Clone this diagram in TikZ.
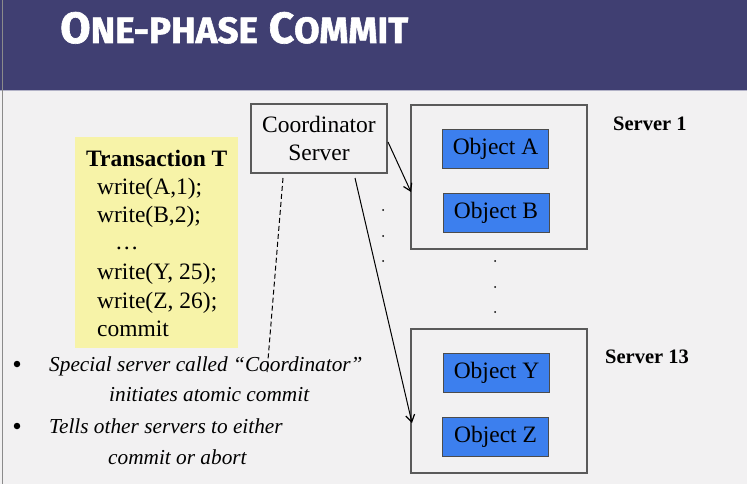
\documentclass[tikz,border=0pt]{standalone}
\usepackage{fontspec}
\setmainfont{Liberation Serif}
\newfontfamily\titlefont{Fira Sans}[BoldFeatures={FakeBold=1.5}]
\usetikzlibrary{arrows.meta}
\definecolor{banner}{HTML}{403F72}
\definecolor{paper}{HTML}{F2F1F2}
\definecolor{note}{HTML}{F7F3A8}
\definecolor{objblue}{HTML}{3C7FEE}
\definecolor{frame}{HTML}{5A5A5A}
\tikzset{
  server/.style={draw=frame, line width=1.2pt, fill=paper},
  objbox/.style={draw=black!70, line width=0.9pt, fill=objblue, minimum width=106pt, minimum height=39pt, inner sep=0pt, font=\fontsize{23.5}{26}\selectfont},
  coord/.style={draw=frame, line width=1.2pt, fill=paper, minimum width=136pt, minimum height=69pt, inner sep=0pt, align=center, font=\fontsize{23.5}{28}\selectfont},
  srvlabel/.style={anchor=base west, inner sep=0pt, font=\fontsize{20.5}{24}\selectfont\bfseries},
  listing/.style={anchor=base west, inner sep=0pt, font=\fontsize{23.5}{26}\selectfont},
  msg/.style={line width=1pt, -{Straight Barb[length=7pt,width=9pt,line width=1.2pt]}},
  bullettext/.style={anchor=base west, inner sep=0pt, font=\fontsize{21.3}{24}\selectfont\itshape},
  dotmark/.style={circle, fill=black, inner sep=0pt, minimum size=2pt},
  bulletmark/.style={circle, fill=black, inner sep=0pt, minimum size=6.5pt},
}
\begin{document}
\begin{tikzpicture}[x=1pt,y=-1pt]
\useasboundingbox (0,0) rectangle (747,484);
% page background and title band
\fill[paper] (0,0) rectangle (747,484);
\fill[banner] (0,0) rectangle (747,90);
\draw[banner!40, line width=1pt] (0,90.5) -- (747,90.5);
\draw[frame!70, line width=1pt] (2,0) -- (2,484);
\node[anchor=base west, inner sep=0pt, text=white] (title) at (60,43)
  {\resizebox{348pt}{31pt}{\titlefont\bfseries{\fontsize{45}{45}\selectfont O}{\fontsize{37.7}{45}\selectfont NE-PHASE}\hspace{11pt}{\fontsize{45}{45}\selectfont C}{\fontsize{37.7}{45}\selectfont OMMIT}}};

% transaction listing
\fill[note] (75,137) rectangle (238,348);
\node[anchor=base west, inner sep=0pt, font=\fontsize{23.5}{26}\selectfont\bfseries] (tname) at (86,166) {Transaction T};
\node[listing] (w1) at (97,194) {write(A,1);};
\node[listing] (w2) at (97,222) {write(B,2);};
\node[listing] (w3) at (115,249) {\dots};
\node[listing] (w4) at (97,279) {write(Y, 25);};
\node[listing] (w5) at (97,308) {write(Z, 26);};
\node[listing] (w6) at (97,336) {commit};

% coordinator
\node[coord] (coordinator) at (319,138.5) {Coordinator\\Server};

% servers
\draw[server] (411,105) rectangle (587,249);
\draw[server] (411,329) rectangle (587,473);
\coordinate (s1in) at (411,192);
\coordinate (s13in) at (412,423);
\node[objbox] (oa) at (495.5,148.5) {Object A};
\node[objbox] (ob) at (496,212.5) {Object B};
\node[objbox] (oy) at (496.5,372.5) {Object Y};
\node[objbox] (oz) at (495.5,436.5) {Object Z};
\node[srvlabel] (s1) at (613,131) {Server 1};
\node[srvlabel] (s13) at (605,363) {Server 13};

% elided servers
\node[dotmark] (d1) at (383,210) {};
\node[dotmark] (d2) at (383,236) {};
\node[dotmark] (d3) at (383,261) {};
\node[dotmark] (d4) at (495,261) {};
\node[dotmark] (d5) at (495,287) {};
\node[dotmark] (d6) at (495,312) {};

% messages from the coordinator
\coordinate (c1) at (388,142);
\coordinate (c2) at (355,178);
\draw[msg] (c1) -- (s1in);
\draw[msg] (c2) -- (s13in);
\coordinate (c3) at (283,178);
\coordinate (c4) at (267,372);
\draw[line width=1pt, dash pattern=on 5pt off 3pt] (c3) -- (c4);

% bullet notes
\node[bulletmark] (b1) at (17,364) {};
\node[bullettext] (t1) at (49,371) {Special server called ``Coordinator''};
\node[bullettext] (t2) at (109,401) {initiates atomic commit};
\node[bulletmark] (b2) at (17,426) {};
\node[bullettext] (t3) at (49,433) {Tells other servers to either};
\node[bullettext] (t4) at (108,464) {commit or abort};
\end{tikzpicture}
\end{document}
